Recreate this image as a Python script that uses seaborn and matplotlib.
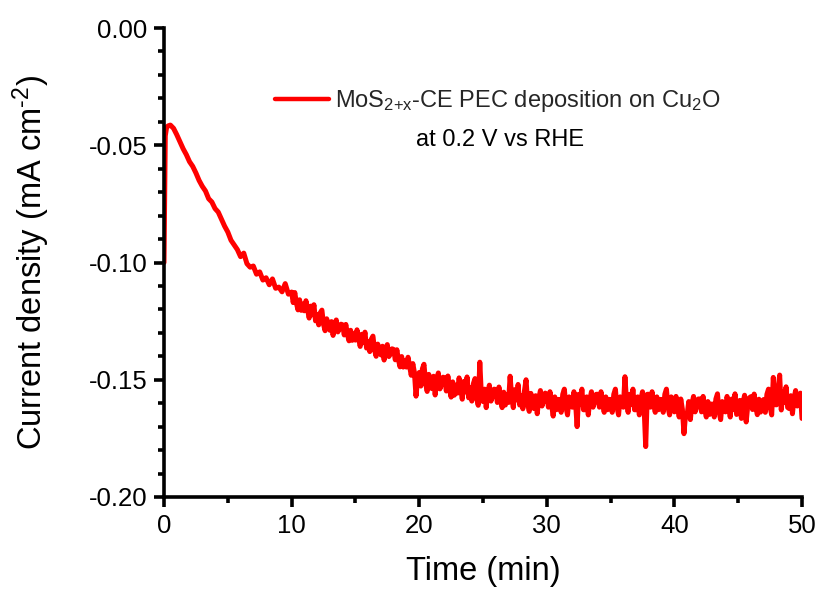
import numpy as np
import pandas as pd
import matplotlib
matplotlib.use("Agg")
import matplotlib.pyplot as plt
import seaborn as sns
from matplotlib.ticker import FixedLocator, MultipleLocator, FormatStrFormatter

# ---- data ----
time_min = [
    0.0, 0.1, 0.2, 0.3, 0.5, 0.75,
    1.0, 1.25, 1.5, 1.75, 2.0, 2.25, 2.5, 2.75, 3.0, 3.25, 3.5, 3.75,
    4.0, 4.25, 4.5, 4.75, 5.0, 5.25, 5.5, 5.75, 6.0, 6.25, 6.5, 6.75,
    7.0, 7.25, 7.5, 7.75, 8.0, 8.25, 8.5, 8.75, 9.0, 9.25, 9.5, 9.75,
    10.0, 10.125, 10.25, 10.375, 10.5, 10.625, 10.75, 10.875,
    11.0, 11.125, 11.25, 11.375, 11.5, 11.625, 11.75, 11.875,
    12.0, 12.125, 12.25, 12.375, 12.5, 12.625, 12.75, 12.875,
    13.0, 13.125, 13.25, 13.375, 13.5, 13.625, 13.75, 13.875,
    14.0, 14.125, 14.25, 14.375, 14.5, 14.625, 14.75, 14.875,
    15.0, 15.125, 15.25, 15.375, 15.5, 15.625, 15.75, 15.875,
    16.0, 16.125, 16.25, 16.375, 16.5, 16.625, 16.75, 16.875,
    17.0, 17.125, 17.25, 17.375, 17.5, 17.625, 17.75, 17.875,
    18.0, 18.125, 18.25, 18.375, 18.5, 18.625, 18.75, 18.875,
    19.0, 19.125, 19.25, 19.375, 19.5, 19.625, 19.75, 19.875,
    20.0, 20.125, 20.25, 20.375, 20.5, 20.625, 20.75, 20.875,
    21.0, 21.125, 21.25, 21.375, 21.5, 21.625, 21.75, 21.875,
    22.0, 22.125, 22.25, 22.375, 22.5, 22.625, 22.75, 22.875,
    23.0, 23.125, 23.25, 23.375, 23.5, 23.625, 23.75, 23.875,
    24.0, 24.125, 24.25, 24.375, 24.5, 24.625, 24.75, 24.875,
    25.0, 25.125, 25.25, 25.375, 25.5, 25.625, 25.75, 25.875,
    26.0, 26.125, 26.25, 26.375, 26.5, 26.625, 26.75, 26.875,
    27.0, 27.125, 27.25, 27.375, 27.5, 27.625, 27.75, 27.875,
    28.0, 28.125, 28.25, 28.375, 28.5, 28.625, 28.75, 28.875,
    29.0, 29.125, 29.25, 29.375, 29.5, 29.625, 29.75, 29.875,
    30.0, 30.125, 30.25, 30.375, 30.5, 30.625, 30.75, 30.875,
    31.0, 31.125, 31.25, 31.375, 31.5, 31.625, 31.75, 31.875,
    32.0, 32.125, 32.25, 32.375, 32.5, 32.625, 32.75, 32.875,
    33.0, 33.125, 33.25, 33.375, 33.5, 33.625, 33.75, 33.875,
    34.0, 34.125, 34.25, 34.375, 34.5, 34.625, 34.75, 34.875,
    35.0, 35.125, 35.25, 35.375, 35.5, 35.625, 35.75, 35.875,
    36.0, 36.125, 36.25, 36.375, 36.5, 36.625, 36.75, 36.875,
    37.0, 37.125, 37.25, 37.375, 37.5, 37.625, 37.75, 37.875,
    38.0, 38.125, 38.25, 38.375, 38.5, 38.625, 38.75, 38.875,
    39.0, 39.125, 39.25, 39.375, 39.5, 39.625, 39.75, 39.875,
    40.0, 40.125, 40.25, 40.375, 40.5, 40.625, 40.75, 40.875,
    41.0, 41.125, 41.25, 41.375, 41.5, 41.625, 41.75, 41.875,
    42.0, 42.125, 42.25, 42.375, 42.5, 42.625, 42.75, 42.875,
    43.0, 43.125, 43.25, 43.375, 43.5, 43.625, 43.75, 43.875,
    44.0, 44.125, 44.25, 44.375, 44.5, 44.625, 44.75, 44.875,
    45.0, 45.125, 45.25, 45.375, 45.5, 45.625, 45.75, 45.875,
    46.0, 46.125, 46.25, 46.375, 46.5, 46.625, 46.75, 46.875,
    47.0, 47.125, 47.25, 47.375, 47.5, 47.625, 47.75, 47.875,
    48.0, 48.125, 48.25, 48.375, 48.5, 48.625, 48.75, 48.875,
    49.0, 49.125, 49.25, 49.375, 49.5, 49.625, 49.75, 49.875,
    50.0,
]
current_density = [
    -0.1000, -0.0460, -0.0425, -0.0418, -0.0414, -0.0428,
    -0.0455, -0.0485, -0.0515, -0.0540, -0.0570, -0.0590, -0.0618, -0.0650, -0.0675, -0.0695, -0.0728, -0.0742,
    -0.0770, -0.0785, -0.0815, -0.0845, -0.0870, -0.0905, -0.0925, -0.0945, -0.0975, -0.0960, -0.1005, -0.1020,
    -0.1015, -0.1050, -0.1040, -0.1075, -0.1065, -0.1095, -0.1070, -0.1110, -0.1105, -0.1125, -0.1090, -0.1135,
    -0.1126, -0.1171, -0.1128, -0.1173, -0.1202, -0.1159, -0.1204, -0.1177,
    -0.1206, -0.1163, -0.1200, -0.1237, -0.1186, -0.1223, -0.1180, -0.1249,
    -0.1222, -0.1266, -0.1214, -0.1203, -0.1263, -0.1291, -0.1240, -0.1268,
    -0.1289, -0.1252, -0.1311, -0.1266, -0.1245, -0.1296, -0.1283, -0.1263,
    -0.1266, -0.1309, -0.1264, -0.1307, -0.1334, -0.1289, -0.1332, -0.1304,
    -0.1331, -0.1287, -0.1322, -0.1358, -0.1306, -0.1342, -0.1297, -0.1365,
    -0.1337, -0.1380, -0.1327, -0.1314, -0.1373, -0.1400, -0.1348, -0.1375,
    -0.1394, -0.1357, -0.1416, -0.1371, -0.1350, -0.1401, -0.1389, -0.1368,
    -0.1371, -0.1415, -0.1372, -0.1416, -0.1445, -0.1401, -0.1446, -0.1418,
    -0.1446, -0.1404, -0.1442, -0.1481, -0.1431, -0.1469, -0.1570, -0.1498,
    -0.1469, -0.1527, -0.1453, -0.1434, -0.1514, -0.1550, -0.1477, -0.1513,
    -0.1538, -0.1485, -0.1565, -0.1501, -0.1471, -0.1539, -0.1520, -0.1489,
    -0.1492, -0.1548, -0.1484, -0.1540, -0.1574, -0.1509, -0.1566, -0.1523,
    -0.1557, -0.1492, -0.1537, -0.1583, -0.1507, -0.1552, -0.1488, -0.1577,
    -0.1534, -0.1591, -0.1516, -0.1495, -0.1574, -0.1609, -0.1425, -0.1569,
    -0.1593, -0.1540, -0.1619, -0.1555, -0.1523, -0.1591, -0.1571, -0.1540,
    -0.1542, -0.1597, -0.1531, -0.1586, -0.1619, -0.1553, -0.1608, -0.1564,
    -0.1597, -0.1485, -0.1575, -0.1619, -0.1542, -0.1586, -0.1520, -0.1608,
    -0.1569, -0.1624, -0.1547, -0.1500, -0.1602, -0.1635, -0.1558, -0.1591,
    -0.1623, -0.1568, -0.1645, -0.1579, -0.1546, -0.1612, -0.1590, -0.1557,
    -0.1562, -0.1617, -0.1551, -0.1606, -0.1655, -0.1573, -0.1628, -0.1584,
    -0.1584, -0.1639, -0.1562, -0.1540, -0.1617, -0.1650, -0.1573, -0.1606,
    -0.1617, -0.1551, -0.1595, -0.1700, -0.1562, -0.1606, -0.1540, -0.1628,
    -0.1628, -0.1573, -0.1650, -0.1584, -0.1551, -0.1617, -0.1595, -0.1562,
    -0.1562, -0.1617, -0.1551, -0.1606, -0.1639, -0.1573, -0.1628, -0.1584,
    -0.1584, -0.1639, -0.1562, -0.1540, -0.1617, -0.1650, -0.1573, -0.1606,
    -0.1617, -0.1487, -0.1595, -0.1639, -0.1562, -0.1606, -0.1540, -0.1628,
    -0.1628, -0.1573, -0.1650, -0.1584, -0.1551, -0.1617, -0.1785, -0.1562,
    -0.1562, -0.1617, -0.1551, -0.1606, -0.1639, -0.1573, -0.1628, -0.1584,
    -0.1584, -0.1639, -0.1562, -0.1540, -0.1617, -0.1650, -0.1573, -0.1606,
    -0.1637, -0.1571, -0.1615, -0.1659, -0.1582, -0.1626, -0.1730, -0.1648,
    -0.1648, -0.1593, -0.1670, -0.1604, -0.1571, -0.1637, -0.1615, -0.1582,
    -0.1582, -0.1637, -0.1571, -0.1626, -0.1659, -0.1593, -0.1648, -0.1604,
    -0.1604, -0.1659, -0.1582, -0.1560, -0.1637, -0.1670, -0.1593, -0.1626,
    -0.1637, -0.1571, -0.1615, -0.1659, -0.1582, -0.1626, -0.1560, -0.1648,
    -0.1643, -0.1588, -0.1665, -0.1599, -0.1566, -0.1680, -0.1610, -0.1577,
    -0.1572, -0.1627, -0.1561, -0.1616, -0.1649, -0.1583, -0.1638, -0.1594,
    -0.1584, -0.1639, -0.1562, -0.1540, -0.1617, -0.1650, -0.1490, -0.1606,
    -0.1607, -0.1541, -0.1480, -0.1629, -0.1552, -0.1596, -0.1530, -0.1618,
    -0.1623, -0.1568, -0.1645, -0.1579, -0.1546, -0.1612, -0.1590, -0.1557,
    -0.1665,
]
x_ticks = [0, 10, 20, 30, 40, 50]
y_ticks = [-0.20, -0.15, -0.10, -0.05, 0.00]
legend_line1 = "MoS$_{\\mathregular{2{+}x}}$-CE PEC deposition on Cu$_{\\mathregular{2}}$O"
legend_line2 = "at 0.2 V vs RHE"
x_label = "Time (min)"
y_label = "Current density (mA cm$^{\\mathregular{\u2010}2}$)"

# ---- style ----
sns.set_theme(style="ticks")
plt.rcParams["font.family"] = ["Liberation Sans", "DejaVu Sans"]
plt.rcParams["mathtext.fontset"] = "custom"
plt.rcParams["mathtext.rm"] = "Liberation Sans"
plt.rcParams["mathtext.it"] = "Liberation Sans:italic"
plt.rcParams["axes.unicode_minus"] = False

n = min(len(time_min), len(current_density))
df = pd.DataFrame({"t": time_min[:n], "j": current_density[:n]})

fig = plt.figure(figsize=(8.22, 5.94), dpi=100)
ax = fig.add_axes([164 / 822, 1 - 497 / 594, (802 - 164) / 822, (497 - 28) / 594])

sns.lineplot(data=df, x="t", y="j", color="#ff0000", linewidth=3.6,
             estimator=None, sort=False, ax=ax, label=legend_line1)

ax.set_xlim(0, 50)
ax.set_ylim(-0.20, 0.00)
ax.xaxis.set_major_locator(FixedLocator(x_ticks))
ax.xaxis.set_minor_locator(MultipleLocator(5))
ax.yaxis.set_major_locator(FixedLocator(y_ticks))
ax.yaxis.set_minor_locator(MultipleLocator(0.01))
ax.yaxis.set_major_formatter(FormatStrFormatter("%.2f"))

for s in ["top", "right"]:
    ax.spines[s].set_visible(False)
for s in ["left", "bottom"]:
    ax.spines[s].set_linewidth(2.6)
    ax.spines[s].set_color("black")

ax.tick_params(which="major", direction="out", length=7.5, width=2.6,
               labelsize=18.5, colors="black", pad=4.5)
ax.tick_params(which="minor", direction="out", length=4, width=2.6, colors="black")

ax.set_xlabel(x_label, fontsize=23.5, color="black")
ax.set_ylabel(y_label, fontsize=23.5, color="black")
ax.xaxis.set_label_coords(0.5, (497 - 556) / 469)
ax.yaxis.set_label_coords((52 - 164) / 638, 0.5)

leg = ax.legend(loc="center left", bbox_to_anchor=((275 - 164) / 638, (497 - 101) / 469),
                frameon=False, fontsize=17, handlelength=2.3, handletextpad=0.25,
                borderaxespad=0, borderpad=0)
for line in leg.get_lines():
    line.set_linewidth(3.2)
ax.text((500.5 - 164) / 638, (497 - 140) / 469, legend_line2, transform=ax.transAxes,
        fontsize=17, ha="center", va="center", color="black")

fig.savefig("out.png", dpi=100)
